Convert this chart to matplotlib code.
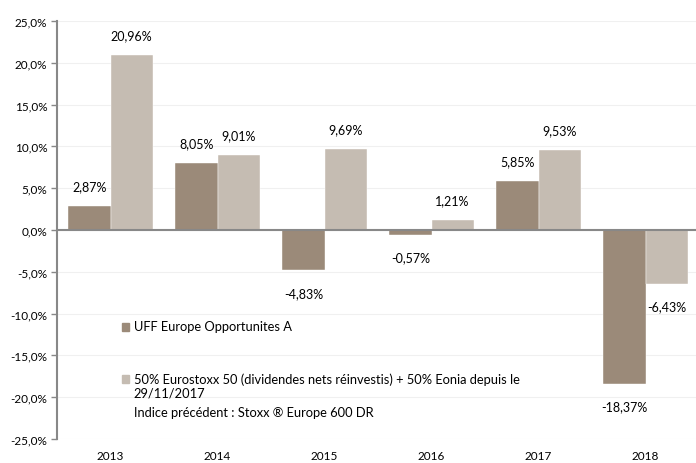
import numpy as np
import matplotlib
matplotlib.use('Agg')
import matplotlib.pyplot as plt
from matplotlib.patches import Rectangle

years = ['2013', '2014', '2015', '2016', '2017', '2018']
fund = [2.87, 8.05, -4.83, -0.57, 5.85, -18.37]
index = [20.96, 9.01, 9.69, 1.21, 9.53, -6.43]
fund_name = 'UFF Europe Opportunites A'
index_lines = ['50% Eurostoxx 50 (dividendes nets réinvestis) + 50% Eonia depuis le',
               '29/11/2017',
               'Indice précédent : Stoxx ® Europe 600 DR']

DARK = '#9b8a79'
LIGHT = '#c5bcb2'

plt.rcParams['font.family'] = ['Lato', 'DejaVu Sans']
plt.rcParams['font.size'] = 8.5

fig = plt.figure(figsize=(6.96, 4.64), dpi=100)
ax = fig.add_axes([57 / 696, 24 / 464, 641 / 696, 418 / 464])

x = np.arange(len(years))
w = 0.395
ax.bar(x - w / 2, fund, w, color=DARK, edgecolor='white', linewidth=0.3, zorder=2)
ax.bar(x + w / 2, index, w, color=LIGHT, edgecolor='white', linewidth=0.3, zorder=2)

def fmt(v):
    return ('%.2f' % v).replace('.', ',') + '%'

for xs, vals in ((x - w / 2, fund), (x + w / 2, index)):
    for xi, v in zip(xs, vals):
        if v >= 0:
            ax.annotate(fmt(v), (xi, v), xytext=(0, 10), textcoords='offset points',
                        ha='center', va='bottom', fontsize=9)
        else:
            ax.annotate(fmt(v), (xi, v), xytext=(0, -12), textcoords='offset points',
                        ha='center', va='top', fontsize=9)

ax.set_ylim(-25, 25)
ax.set_xlim(-0.5, -0.5 + 641 / 107)
yt = np.arange(-25, 26, 5)
ax.set_yticks(yt)
ax.set_yticklabels([('%.1f' % v).replace('.', ',') + '%' for v in yt])
ax.set_xticks(x)
ax.set_xticklabels(years)
ax.tick_params(axis='x', length=0, pad=8)
ax.tick_params(axis='y', length=4, width=1, color='#888888', pad=3)
ax.grid(axis='y', color='#f0f0f0', linewidth=0.8, zorder=0)
ax.set_axisbelow(True)
for s in ('top', 'right', 'bottom'):
    ax.spines[s].set_visible(False)
ax.spines['left'].set_color('#888888')
ax.spines['left'].set_linewidth(1.5)
ax.axhline(0, color='#888888', linewidth=1.5, zorder=3)

# legend
ax.add_patch(Rectangle((0.101, 0.259), 0.012, 0.019, transform=ax.transAxes,
                       color=DARK, clip_on=False))
ax.text(0.120, 0.270, fund_name, transform=ax.transAxes, va='center', fontsize=9.3)
ax.add_patch(Rectangle((0.101, 0.133), 0.012, 0.019, transform=ax.transAxes,
                       color=LIGHT, clip_on=False))
for yy, t in zip((0.1435, 0.112, 0.0646), index_lines):
    ax.text(0.120, yy, t, transform=ax.transAxes, va='center', fontsize=9.3)

fig.savefig('out.png', dpi=100)
